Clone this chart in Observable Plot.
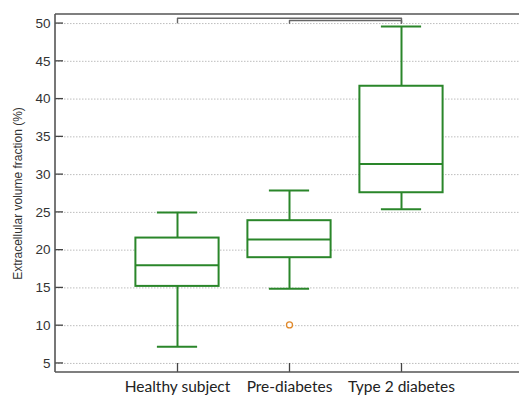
<!DOCTYPE html>
<html>
<head>
<meta charset="utf-8">
<script src="https://cdn.jsdelivr.net/npm/d3@7"></script>
<script src="https://cdn.jsdelivr.net/npm/@observablehq/plot@0.6"></script>
<style>
  html, body { margin: 0; padding: 0; background: #fff; overflow: hidden; }
  #chart svg { display: block; }
</style>
</head>
<body>
<div id="chart"></div>
<script>
// ---- data ----
const groups       = ["Healthy subject", "Pre-diabetes", "Type 2 diabetes"];
const whiskerLow   = [7.2, 14.9, 25.4];
const q1           = [15.2, 19.0, 27.6];
const median       = [18.0, 21.4, 31.4];
const q3           = [21.6, 23.9, 41.7];
const whiskerHigh  = [25.0, 27.9, 49.6];
const outlierGroup = ["Pre-diabetes"];
const outlierValue = [10.1];
const yTicks       = [5, 10, 15, 20, 25, 30, 35, 40, 45, 50];
const bracketFrom  = ["Healthy subject", "Pre-diabetes"];
const bracketTo    = ["Type 2 diabetes", "Type 2 diabetes"];
const bracketTop   = [50.7, 50.4];
const bracketFoot  = [50.1, 50.05];
const yLabel = "Extracellular volume fraction (%)";

// ---- tables built from the arrays ----
const boxes = groups.map((g, i) => ({g, lo: whiskerLow[i], q1: q1[i], med: median[i], q3: q3[i], hi: whiskerHigh[i]}));
const outliers = outlierGroup.map((g, i) => ({g, v: outlierValue[i]}));
const bracketPts = [];
bracketFrom.forEach((f, i) => {
  bracketPts.push({id: i, x: f, y: bracketFoot[i]});
  bracketPts.push({id: i, x: f, y: bracketTop[i]});
  bracketPts.push({id: i, x: bracketTo[i], y: bracketTop[i]});
  bracketPts.push({id: i, x: bracketTo[i], y: bracketFoot[i]});
});

const W = 520, H = 396, mL = 55, mR = 0, mT = 14, mB = 24;
const yMin = 3.8, yMax = 51.2;
const green = "#2a862a";
const frameW = W - mL - mR, frameH = H - mT - mB;
const arial = "'Liberation Sans', Arial, sans-serif";

const chart = Plot.plot({
  width: W, height: H,
  marginLeft: mL, marginRight: mR, marginTop: mT, marginBottom: mB,
  style: {fontFamily: arial, fontSize: "13px", color: "#333"},
  x: {type: "band", domain: groups, range: [119.6, 457.9], padding: 0, axis: null},
  y: {domain: [yMin, yMax], axis: null},
  marks: [
    // dotted gridlines
    Plot.ruleY(yTicks, {stroke: "#bdbdbd", strokeWidth: 1, strokeDasharray: "1.5,1.5"}),
    // inward x ticks
    Plot.ruleX(groups, {stroke: "#444", strokeWidth: 1.3, insetTop: frameH - 9}),
    // y tick labels
    Plot.text(yTicks, {y: d => d, frameAnchor: "left", textAnchor: "end", dx: -5, fontFamily: arial, fontSize: 13.5, fill: "#333"}),
    // whiskers
    Plot.ruleX(boxes, {x: "g", y1: "lo", y2: "q1", stroke: green, strokeWidth: 2}),
    Plot.ruleX(boxes, {x: "g", y1: "q3", y2: "hi", stroke: green, strokeWidth: 2}),
    // boxes
    Plot.barY(boxes, {x: "g", y1: "q1", y2: "q3", fill: "white", stroke: green, strokeWidth: 2, insetLeft: 14.4, insetRight: 14.4}),
    // medians
    Plot.tickY(boxes, {x: "g", y: "med", stroke: green, strokeWidth: 2, insetLeft: 14.4, insetRight: 14.4}),
    // caps
    Plot.tickY(boxes, {x: "g", y: "lo", stroke: green, strokeWidth: 2, insetLeft: 35.9, insetRight: 35.9}),
    Plot.tickY(boxes, {x: "g", y: "hi", stroke: green, strokeWidth: 2, insetLeft: 35.9, insetRight: 35.9}),
    // outliers
    Plot.dot(outliers, {x: "g", y: "v", r: 3, stroke: "#e0892b", fill: "white", strokeWidth: 1.3}),
    // significance brackets
    Plot.line(bracketPts, {x: "x", y: "y", z: "id", stroke: "#666", strokeWidth: 1.4, curve: "linear"}),
    // x category labels
    Plot.text(groups, {x: d => d, frameAnchor: "bottom", lineAnchor: "top", dy: 8, fontFamily: "Lato, 'Open Sans', sans-serif", fontSize: 15.5, fill: "#222"}),
    // y label
    Plot.text([yLabel], {frameAnchor: "left", rotate: -90, dx: -37, textAnchor: "middle", lineAnchor: "middle", fontFamily: arial, fontSize: 12, fill: "#333"})
  ]
});

const svg = d3.select(chart);
const yScale = chart.scale("y");
// inward y ticks positioned through Plot's y scale
svg.append("g").selectAll("line").data(yTicks).join("line")
  .attr("x1", mL).attr("x2", mL + 8)
  .attr("y1", d => yScale.apply(d)).attr("y2", d => yScale.apply(d))
  .attr("stroke", "#444").attr("stroke-width", 1.3);
// frame lines: left, top, bottom
const frame = [[mL, mT, mL, H - mB], [mL, mT, W - 1, mT], [mL, H - mB, W - 1, H - mB]];
svg.append("g").selectAll("line").data(frame).join("line")
  .attr("x1", d => d[0]).attr("y1", d => d[1]).attr("x2", d => d[2]).attr("y2", d => d[3])
  .attr("stroke", "#555").attr("stroke-width", 1.6);

document.getElementById("chart").appendChild(chart);
</script>
</body>
</html>
